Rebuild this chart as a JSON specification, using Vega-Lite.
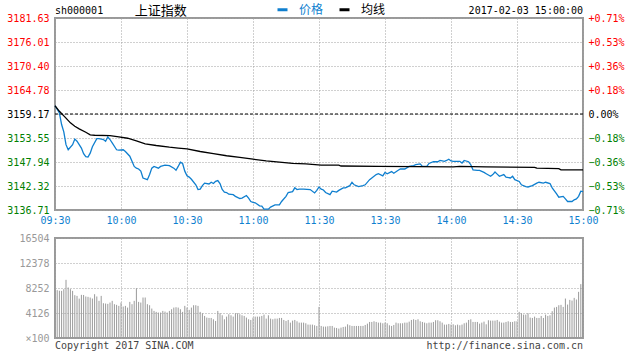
{
"$schema": "https://vega.github.io/schema/vega-lite/v6.json",
"background": "white",
"padding": {"left": 5, "top": 3, "right": 5, "bottom": 2},
"spacing": 28,
"bounds": "flush",
"config": {
  "font": "DejaVu Sans Mono",
  "view": {"stroke": "#999999", "strokeWidth": 2},
  "axis": {"ticks": false, "domain": false, "labelFont": "DejaVu Sans Mono", "labelFontSize": 10, "labelFlush": false, "labelOverlap": false, "labelPadding": 6, "gridColor": "#a0a0a0", "gridDash": [1, 2], "gridWidth": 1, "title": null, "tickCount": 20},
  "legend": {"labelFont": "Noto Sans CJK SC", "labelFontSize": 12}
},
"datasets": {
  "line": [
    {"t":0,"v":3161.1,"s":"价格"},{"t":2,"v":3159.4,"s":"价格"},{"t":3,"v":3156.7,"s":"价格"},{"t":4,"v":3155.0,"s":"价格"},{"t":5,"v":3152.0,"s":"价格"},{"t":6,"v":3150.8,"s":"价格"},{"t":8,"v":3152.0,"s":"价格"},{"t":9,"v":3153.3,"s":"价格"},{"t":10,"v":3152.8,"s":"价格"},{"t":12,"v":3151.2,"s":"价格"},{"t":13,"v":3149.9,"s":"价格"},{"t":14,"v":3149.2,"s":"价格"},{"t":15,"v":3149.1,"s":"价格"},{"t":16,"v":3150.0,"s":"价格"},{"t":17,"v":3151.5,"s":"价格"},{"t":19,"v":3153.4,"s":"价格"},{"t":20,"v":3153.4,"s":"价格"},{"t":22,"v":3153.2,"s":"价格"},{"t":23,"v":3152.8,"s":"价格"},{"t":24,"v":3153.8,"s":"价格"},{"t":25,"v":3153.2,"s":"价格"},{"t":26,"v":3152.4,"s":"价格"},{"t":28,"v":3150.8,"s":"价格"},{"t":29,"v":3150.7,"s":"价格"},{"t":31,"v":3150.8,"s":"价格"},{"t":32,"v":3150.4,"s":"价格"},{"t":34,"v":3149.3,"s":"价格"},{"t":35,"v":3148.1,"s":"价格"},{"t":36,"v":3146.9,"s":"价格"},{"t":37,"v":3146.5,"s":"价格"},{"t":38,"v":3146.3,"s":"价格"},{"t":39,"v":3145.8,"s":"价格"},{"t":40,"v":3144.2,"s":"价格"},{"t":42,"v":3143.8,"s":"价格"},{"t":43,"v":3145.0,"s":"价格"},{"t":44,"v":3146.5,"s":"价格"},{"t":45,"v":3146.9,"s":"价格"},{"t":47,"v":3146.5,"s":"价格"},{"t":48,"v":3146.9,"s":"价格"},{"t":50,"v":3147.2,"s":"价格"},{"t":52,"v":3147.1,"s":"价格"},{"t":54,"v":3146.5,"s":"价格"},{"t":55,"v":3146.0,"s":"价格"},{"t":56,"v":3146.9,"s":"价格"},{"t":57,"v":3147.9,"s":"价格"},{"t":58,"v":3147.6,"s":"价格"},{"t":59,"v":3145.8,"s":"价格"},{"t":60,"v":3144.7,"s":"价格"},{"t":61,"v":3144.4,"s":"价格"},{"t":62,"v":3143.9,"s":"价格"},{"t":64,"v":3142.6,"s":"价格"},{"t":65,"v":3141.5,"s":"价格"},{"t":66,"v":3141.6,"s":"价格"},{"t":67,"v":3142.4,"s":"价格"},{"t":68,"v":3143.0,"s":"价格"},{"t":70,"v":3142.8,"s":"价格"},{"t":71,"v":3143.2,"s":"价格"},{"t":72,"v":3142.9,"s":"价格"},{"t":73,"v":3143.4,"s":"价格"},{"t":74,"v":3143.6,"s":"价格"},{"t":75,"v":3142.9,"s":"价格"},{"t":76,"v":3141.5,"s":"价格"},{"t":77,"v":3140.9,"s":"价格"},{"t":78,"v":3140.8,"s":"价格"},{"t":79,"v":3140.4,"s":"价格"},{"t":81,"v":3140.3,"s":"价格"},{"t":82,"v":3139.9,"s":"价格"},{"t":84,"v":3139.4,"s":"价格"},{"t":85,"v":3139.5,"s":"价格"},{"t":87,"v":3140.1,"s":"价格"},{"t":88,"v":3139.5,"s":"价格"},{"t":89,"v":3138.7,"s":"价格"},{"t":90,"v":3138.5,"s":"价格"},{"t":91,"v":3138.4,"s":"价格"},{"t":93,"v":3137.7,"s":"价格"},{"t":94,"v":3137.6,"s":"价格"},{"t":95,"v":3136.9,"s":"价格"},{"t":97,"v":3136.9,"s":"价格"},{"t":98,"v":3137.4,"s":"价格"},{"t":100,"v":3137.9,"s":"价格"},{"t":102,"v":3137.9,"s":"价格"},{"t":103,"v":3138.7,"s":"价格"},{"t":105,"v":3139.9,"s":"价格"},{"t":106,"v":3140.8,"s":"价格"},{"t":108,"v":3141.0,"s":"价格"},{"t":109,"v":3141.9,"s":"价格"},{"t":110,"v":3141.5,"s":"价格"},{"t":111,"v":3141.6,"s":"价格"},{"t":113,"v":3141.6,"s":"价格"},{"t":116,"v":3141.5,"s":"价格"},{"t":118,"v":3140.7,"s":"价格"},{"t":119,"v":3141.3,"s":"价格"},{"t":120,"v":3142.1,"s":"价格"},{"t":121,"v":3141.6,"s":"价格"},{"t":122,"v":3141.4,"s":"价格"},{"t":123,"v":3140.8,"s":"价格"},{"t":125,"v":3140.3,"s":"价格"},{"t":126,"v":3141.1,"s":"价格"},{"t":128,"v":3140.9,"s":"价格"},{"t":129,"v":3141.3,"s":"价格"},{"t":131,"v":3141.9,"s":"价格"},{"t":132,"v":3141.9,"s":"价格"},{"t":134,"v":3142.4,"s":"价格"},{"t":135,"v":3143.2,"s":"价格"},{"t":136,"v":3142.6,"s":"价格"},{"t":138,"v":3142.2,"s":"价格"},{"t":140,"v":3142.4,"s":"价格"},{"t":141,"v":3142.6,"s":"价格"},{"t":143,"v":3143.8,"s":"价格"},{"t":144,"v":3144.2,"s":"价格"},{"t":146,"v":3145.0,"s":"价格"},{"t":147,"v":3145.2,"s":"价格"},{"t":149,"v":3144.7,"s":"价格"},{"t":150,"v":3145.5,"s":"价格"},{"t":151,"v":3145.2,"s":"价格"},{"t":153,"v":3145.7,"s":"价格"},{"t":154,"v":3145.3,"s":"价格"},{"t":156,"v":3146.0,"s":"价格"},{"t":157,"v":3146.3,"s":"价格"},{"t":159,"v":3146.3,"s":"价格"},{"t":161,"v":3146.9,"s":"价格"},{"t":163,"v":3147.1,"s":"价格"},{"t":164,"v":3147.3,"s":"价格"},{"t":166,"v":3147.5,"s":"价格"},{"t":167,"v":3146.9,"s":"价格"},{"t":169,"v":3146.9,"s":"价格"},{"t":170,"v":3147.6,"s":"价格"},{"t":172,"v":3148.0,"s":"价格"},{"t":174,"v":3148.0,"s":"价格"},{"t":175,"v":3148.3,"s":"价格"},{"t":177,"v":3148.1,"s":"价格"},{"t":178,"v":3148.3,"s":"价格"},{"t":179,"v":3148.6,"s":"价格"},{"t":180,"v":3148.2,"s":"价格"},{"t":181,"v":3148.1,"s":"价格"},{"t":182,"v":3148.1,"s":"价格"},{"t":184,"v":3148.1,"s":"价格"},{"t":185,"v":3147.7,"s":"价格"},{"t":186,"v":3148.3,"s":"价格"},{"t":188,"v":3148.0,"s":"价格"},{"t":189,"v":3147.3,"s":"价格"},{"t":190,"v":3146.1,"s":"价格"},{"t":192,"v":3146.0,"s":"价格"},{"t":193,"v":3146.0,"s":"价格"},{"t":195,"v":3145.5,"s":"价格"},{"t":196,"v":3145.2,"s":"价格"},{"t":197,"v":3144.9,"s":"价格"},{"t":198,"v":3144.6,"s":"价格"},{"t":199,"v":3145.0,"s":"价格"},{"t":200,"v":3145.6,"s":"价格"},{"t":201,"v":3145.1,"s":"价格"},{"t":202,"v":3144.6,"s":"价格"},{"t":204,"v":3145.0,"s":"价格"},{"t":205,"v":3144.4,"s":"价格"},{"t":207,"v":3144.2,"s":"价格"},{"t":208,"v":3144.6,"s":"价格"},{"t":209,"v":3143.8,"s":"价格"},{"t":211,"v":3143.4,"s":"价格"},{"t":212,"v":3142.6,"s":"价格"},{"t":214,"v":3142.2,"s":"价格"},{"t":215,"v":3142.1,"s":"价格"},{"t":217,"v":3142.4,"s":"价格"},{"t":219,"v":3143.0,"s":"价格"},{"t":220,"v":3143.2,"s":"价格"},{"t":222,"v":3143.0,"s":"价格"},{"t":223,"v":3143.2,"s":"价格"},{"t":225,"v":3142.9,"s":"价格"},{"t":226,"v":3141.9,"s":"价格"},{"t":228,"v":3140.5,"s":"价格"},{"t":229,"v":3139.7,"s":"价格"},{"t":231,"v":3139.9,"s":"价格"},{"t":232,"v":3139.3,"s":"价格"},{"t":233,"v":3138.7,"s":"价格"},{"t":235,"v":3138.7,"s":"价格"},{"t":236,"v":3139.1,"s":"价格"},{"t":237,"v":3139.3,"s":"价格"},{"t":238,"v":3139.9,"s":"价格"},{"t":239,"v":3141.1,"s":"价格"},{"t":240,"v":3141.0,"s":"价格"},
    {"t":0,"v":3161.1,"s":"均线"},{"t":2,"v":3159.8,"s":"均线"},{"t":5,"v":3158.2,"s":"均线"},{"t":7,"v":3157.1,"s":"均线"},{"t":9,"v":3156.3,"s":"均线"},{"t":11,"v":3155.7,"s":"均线"},{"t":14,"v":3154.9,"s":"均线"},{"t":16,"v":3154.3,"s":"均线"},{"t":18,"v":3154.2,"s":"均线"},{"t":25,"v":3154.1,"s":"均线"},{"t":29,"v":3153.8,"s":"均线"},{"t":33,"v":3153.5,"s":"均线"},{"t":37,"v":3152.9,"s":"均线"},{"t":41,"v":3152.2,"s":"均线"},{"t":46,"v":3151.8,"s":"均线"},{"t":52,"v":3151.4,"s":"均线"},{"t":56,"v":3151.2,"s":"均线"},{"t":60,"v":3151.0,"s":"均线"},{"t":66,"v":3150.4,"s":"均线"},{"t":72,"v":3149.9,"s":"均线"},{"t":78,"v":3149.4,"s":"均线"},{"t":84,"v":3149.0,"s":"均线"},{"t":90,"v":3148.6,"s":"均线"},{"t":96,"v":3148.2,"s":"均线"},{"t":102,"v":3147.9,"s":"均线"},{"t":108,"v":3147.6,"s":"均线"},{"t":114,"v":3147.5,"s":"均线"},{"t":121,"v":3147.2,"s":"均线"},{"t":129,"v":3147.2,"s":"均线"},{"t":130,"v":3147.0,"s":"均线"},{"t":147,"v":3146.9,"s":"均线"},{"t":181,"v":3146.8,"s":"均线"},{"t":184,"v":3146.9,"s":"均线"},{"t":196,"v":3146.8,"s":"均线"},{"t":218,"v":3146.7,"s":"均线"},{"t":219,"v":3146.5,"s":"均线"},{"t":229,"v":3146.4,"s":"均线"},{"t":230,"v":3146.1,"s":"均线"},{"t":240,"v":3146.1,"s":"均线"}
  ],
  "ref": [{"pre": 3159.17}],
  "hdrL": [{"t": 0, "label": "sh000001"}],
  "hdrC": [{"t": 36.3, "label": "上证指数"}],
  "hdrR": [{"t": 240, "label": "2017-02-03 15:00:00"}],
  "footL": [{"t": 0, "label": "Copyright 2017 SINA.COM"}],
  "footR": [{"t": 240, "label": "http://finance.sina.com.cn"}],
  "vol": [
    {"t":0,"v":7950},{"t":1,"v":7900},{"t":2,"v":7800},{"t":3,"v":7780},{"t":4,"v":8060},{"t":5,"v":9600},{"t":6,"v":8340},{"t":7,"v":8060},{"t":8,"v":7780},{"t":9,"v":7070},{"t":10,"v":6950},{"t":11,"v":6500},{"t":12,"v":7120},{"t":13,"v":7100},{"t":14,"v":6850},{"t":15,"v":6790},{"t":16,"v":6680},{"t":17,"v":6510},{"t":18,"v":7230},{"t":19,"v":6850},{"t":20,"v":6130},{"t":21,"v":6950},{"t":22,"v":5740},{"t":23,"v":5690},{"t":24,"v":5630},{"t":25,"v":5850},{"t":26,"v":6130},{"t":27,"v":5580},{"t":28,"v":5470},{"t":29,"v":5300},
    {"t":30,"v":5850},{"t":31,"v":5190},{"t":32,"v":5300},{"t":33,"v":5020},{"t":34,"v":5960},{"t":35,"v":5580},{"t":36,"v":6130},{"t":37,"v":8220},{"t":38,"v":5960},{"t":39,"v":5850},{"t":40,"v":6680},{"t":41,"v":6680},{"t":42,"v":5580},{"t":43,"v":5410},{"t":44,"v":4860},{"t":45,"v":4470},{"t":46,"v":4310},{"t":47,"v":4200},{"t":48,"v":4200},{"t":49,"v":4470},{"t":50,"v":4360},{"t":51,"v":4200},{"t":52,"v":4470},{"t":53,"v":4750},{"t":54,"v":5020},{"t":55,"v":5080},{"t":56,"v":5020},{"t":57,"v":4750},{"t":58,"v":4310},{"t":59,"v":5300},
    {"t":60,"v":5020},{"t":61,"v":4640},{"t":62,"v":5020},{"t":63,"v":5410},{"t":64,"v":5410},{"t":65,"v":5300},{"t":66,"v":4310},{"t":67,"v":4085},{"t":68,"v":3640},{"t":69,"v":3370},{"t":70,"v":3310},{"t":71,"v":3310},{"t":72,"v":3090},{"t":73,"v":2815},{"t":74,"v":4470},{"t":75,"v":4085},{"t":76,"v":3750},{"t":77,"v":3090},{"t":78,"v":3530},{"t":79,"v":3920},{"t":80,"v":3750},{"t":81,"v":3530},{"t":82,"v":4085},{"t":83,"v":4085},{"t":84,"v":3920},{"t":85,"v":3750},{"t":86,"v":3640},{"t":87,"v":3370},{"t":88,"v":3090},{"t":89,"v":2980},
    {"t":90,"v":3370},{"t":91,"v":3530},{"t":92,"v":3530},{"t":93,"v":3530},{"t":94,"v":3640},{"t":95,"v":3860},{"t":96,"v":3200},{"t":97,"v":3750},{"t":98,"v":3200},{"t":99,"v":3090},{"t":100,"v":3200},{"t":101,"v":3200},{"t":102,"v":3310},{"t":103,"v":3310},{"t":104,"v":2980},{"t":105,"v":2815},{"t":106,"v":2980},{"t":107,"v":2540},{"t":108,"v":2870},{"t":109,"v":2980},{"t":110,"v":2760},{"t":111,"v":2540},{"t":112,"v":2540},{"t":113,"v":2540},{"t":114,"v":2430},{"t":115,"v":2210},{"t":116,"v":2210},{"t":117,"v":2210},{"t":118,"v":2100},{"t":119,"v":1990},
    {"t":120,"v":5130},{"t":121,"v":1990},{"t":122,"v":1880},{"t":123,"v":1880},{"t":124,"v":1930},{"t":125,"v":1990},{"t":126,"v":1990},{"t":127,"v":1710},{"t":128,"v":1660},{"t":129,"v":1550},{"t":130,"v":1710},{"t":131,"v":1820},{"t":132,"v":1880},{"t":133,"v":2260},{"t":134,"v":2100},{"t":135,"v":1990},{"t":136,"v":1990},{"t":137,"v":1990},{"t":138,"v":1990},{"t":139,"v":1990},{"t":140,"v":1990},{"t":141,"v":2150},{"t":142,"v":2370},{"t":143,"v":2650},{"t":144,"v":2650},{"t":145,"v":2760},{"t":146,"v":2650},{"t":147,"v":2540},{"t":148,"v":2540},{"t":149,"v":2430},
    {"t":150,"v":2540},{"t":151,"v":2430},{"t":152,"v":2100},{"t":153,"v":1990},{"t":154,"v":2150},{"t":155,"v":2540},{"t":156,"v":2430},{"t":157,"v":2430},{"t":158,"v":2430},{"t":159,"v":2540},{"t":160,"v":2540},{"t":161,"v":2700},{"t":162,"v":2980},{"t":163,"v":3090},{"t":164,"v":2980},{"t":165,"v":3090},{"t":166,"v":2760},{"t":167,"v":2650},{"t":168,"v":2540},{"t":169,"v":2430},{"t":170,"v":2540},{"t":171,"v":2540},{"t":172,"v":2650},{"t":173,"v":2930},{"t":174,"v":2930},{"t":175,"v":2760},{"t":176,"v":2540},{"t":177,"v":2210},{"t":178,"v":2210},{"t":179,"v":2320},
    {"t":180,"v":2210},{"t":181,"v":2260},{"t":182,"v":2100},{"t":183,"v":2210},{"t":184,"v":2100},{"t":185,"v":2210},{"t":186,"v":2430},{"t":187,"v":2540},{"t":188,"v":2980},{"t":189,"v":3090},{"t":190,"v":2650},{"t":191,"v":2650},{"t":192,"v":2650},{"t":193,"v":2370},{"t":194,"v":2540},{"t":195,"v":2700},{"t":196,"v":2260},{"t":197,"v":2930},{"t":198,"v":2870},{"t":199,"v":2870},{"t":200,"v":2870},{"t":201,"v":2980},{"t":202,"v":2700},{"t":203,"v":2540},{"t":204,"v":2540},{"t":205,"v":2650},{"t":206,"v":2760},{"t":207,"v":2650},{"t":208,"v":2650},{"t":209,"v":2760},
    {"t":210,"v":2760},{"t":211,"v":4310},{"t":212,"v":4085},{"t":213,"v":3860},{"t":214,"v":3860},{"t":215,"v":4085},{"t":216,"v":3370},{"t":217,"v":3310},{"t":218,"v":3530},{"t":219,"v":3310},{"t":220,"v":3310},{"t":221,"v":3640},{"t":222,"v":3310},{"t":223,"v":3860},{"t":224,"v":3640},{"t":225,"v":3750},{"t":226,"v":4420},{"t":227,"v":5020},{"t":228,"v":5130},{"t":229,"v":5410},{"t":230,"v":5470},{"t":231,"v":5130},{"t":232,"v":6510},{"t":233,"v":5520},{"t":234,"v":6290},{"t":235,"v":6180},{"t":236,"v":6620},{"t":237,"v":6350},{"t":238,"v":7620},{"t":239,"v":8890}
  ]
},
"vconcat": [
  {
    "width": 528,
    "height": 192,
    "layer": [
      {
        "data": {"name": "line"},
        "mark": {"type": "line", "strokeWidth": 1.3},
        "encoding": {
          "x": {"field": "t", "type": "quantitative", "scale": {"domain": [0, 240], "nice": false}, "axis": {"values": [0, 30, 60, 90, 120, 150, 180, 210, 240], "tickCount": 20, "labelExpr": "['09:30','10:00','10:30','11:00','11:30','13:30','14:00','14:30','15:00'][round(datum.value/30)]", "labelColor": "#0f7fcf", "labelPadding": 5, "grid": true}},
          "y": {"field": "v", "type": "quantitative", "scale": {"domain": [3136.71, 3181.63], "nice": false, "zero": false}, "axis": {"orient": "left", "values": [3136.71, 3142.32, 3147.94, 3153.55, 3159.17, 3164.78, 3170.40, 3176.01, 3181.63], "tickCount": 20, "format": ".2f", "grid": true, "labelOverlap": false, "labelColor": {"expr": "datum.value > 3159.2 ? '#ff0000' : (datum.value < 3159.1 ? '#008000' : '#000000')"}}},
          "color": {"field": "s", "type": "nominal", "scale": {"domain": ["价格", "均线"], "range": ["#0f7fcf", "#000000"]}, "legend": {"orient": "none", "legendX": 221, "legendY": -15, "direction": "horizontal", "title": null, "symbolType": "stroke", "symbolStrokeWidth": 3, "symbolSize": 100, "labelOffset": 10, "columnPadding": 9, "padding": 0, "labelColor": {"expr": "datum.value === '价格' ? '#0f7fcf' : '#000000'"}}}
        }
      },
      {
        "data": {"name": "ref"},
        "mark": {"type": "rule", "color": "#000000", "strokeDash": [3, 2], "strokeWidth": 1},
        "encoding": {
          "y": {"field": "pre", "type": "quantitative", "axis": {"orient": "right", "values": [3136.71, 3142.32, 3147.94, 3153.55, 3159.17, 3164.78, 3170.40, 3176.01, 3181.63], "tickCount": 20, "grid": false, "labelOverlap": false, "labelPadding": 5, "labelExpr": "(datum.value > 3159.2 ? '+' : '') + format((datum.value - 3159.17) / 3159.17 * 100, '.2f') + '%'", "labelColor": {"expr": "datum.value > 3159.2 ? '#ff0000' : (datum.value < 3159.1 ? '#008000' : '#000000')"}}}
        }
      },
      {
        "data": {"name": "hdrL"},
        "mark": {"type": "text", "align": "left", "baseline": "alphabetic", "dy": -4, "fontSize": 10, "font": "DejaVu Sans Mono", "color": "#000000"},
        "encoding": {
          "x": {"field": "t", "type": "quantitative"},
          "y": {"datum": 3181.63, "type": "quantitative", "axis": null},
          "text": {"field": "label"}
        }
      },
      {
        "data": {"name": "hdrC"},
        "mark": {"type": "text", "align": "left", "baseline": "alphabetic", "dy": -3, "fontSize": 13, "font": "Noto Sans CJK SC", "color": "#000000"},
        "encoding": {
          "x": {"field": "t", "type": "quantitative"},
          "y": {"datum": 3181.63, "type": "quantitative", "axis": null},
          "text": {"field": "label"}
        }
      },
      {
        "data": {"name": "hdrR"},
        "mark": {"type": "text", "align": "right", "baseline": "alphabetic", "dy": -4, "fontSize": 10, "font": "DejaVu Sans Mono", "color": "#000000"},
        "encoding": {
          "x": {"field": "t", "type": "quantitative"},
          "y": {"datum": 3181.63, "type": "quantitative", "axis": null},
          "text": {"field": "label"}
        }
      }
    ],
    "resolve": {"axis": {"y": "independent"}}
  },
  {
    "width": 528,
    "height": 100,
    "layer": [
      {
        "data": {"name": "vol"},
        "mark": {"type": "rule", "color": "#9a9a9a", "strokeWidth": 1},
        "encoding": {
          "x": {"field": "t", "type": "quantitative", "scale": {"domain": [0, 240], "nice": false}, "axis": {"values": [0, 30, 60, 90, 120, 150, 180, 210, 240], "tickCount": 20, "labels": false, "grid": true}},
          "y": {"field": "v", "type": "quantitative", "scale": {"domain": [0, 16504], "nice": false}, "axis": {"values": [0, 4126, 8252, 12378, 16504], "tickCount": 20, "labelOverlap": false, "labelExpr": "datum.value === 0 ? '×100' : format(datum.value, 'd')", "labelColor": "#999999", "grid": true}},
          "y2": {"datum": 0}
        }
      },
      {
        "data": {"name": "footL"},
        "mark": {"type": "text", "align": "left", "baseline": "top", "dy": 3, "fontSize": 10, "font": "DejaVu Sans Mono", "color": "#444444"},
        "encoding": {
          "x": {"field": "t", "type": "quantitative"},
          "y": {"datum": 0, "type": "quantitative"},
          "text": {"field": "label"}
        }
      },
      {
        "data": {"name": "footR"},
        "mark": {"type": "text", "align": "right", "baseline": "top", "dy": 3, "fontSize": 10, "font": "DejaVu Sans Mono", "color": "#444444"},
        "encoding": {
          "x": {"field": "t", "type": "quantitative"},
          "y": {"datum": 0, "type": "quantitative"},
          "text": {"field": "label"}
        }
      }
    ]
  }
]
}
